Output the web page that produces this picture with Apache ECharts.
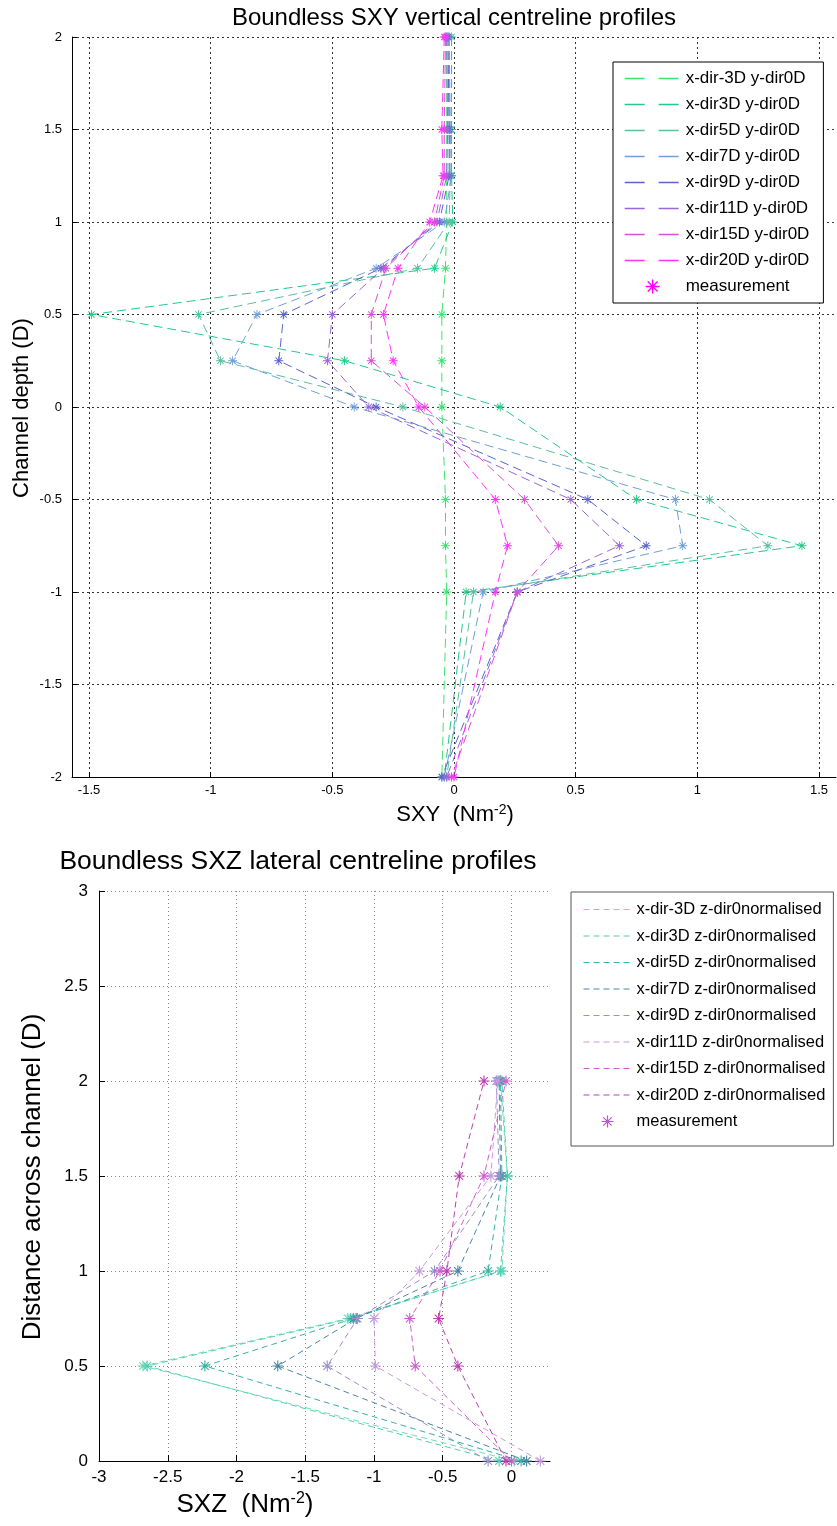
<!DOCTYPE html>
<html>
<head>
<meta charset="utf-8">
<script src="https://cdn.jsdelivr.net/npm/echarts@6/dist/echarts.min.js"></script>
<style>
html,body{margin:0;padding:0;background:#fff;}
#c{width:837px;height:1526px;}
</style>
</head>
<body>
<div id="c"></div>
<script>
// ---------- DATA: top chart (SXY vertical profiles) ----------
const topDepth = [2, 1.5, 1.25, 1, 0.75, 0.5, 0.25, 0, -0.5, -0.75, -1, -2];
const topNames = ['x-dir-3D y-dir0D','x-dir3D y-dir0D','x-dir5D y-dir0D','x-dir7D y-dir0D','x-dir9D y-dir0D','x-dir11D y-dir0D','x-dir15D y-dir0D','x-dir20D y-dir0D'];
const topM3  = [-0.03, -0.03, -0.03, -0.03, -0.035, -0.05, -0.05, -0.05, -0.035, -0.035, -0.03, -0.05];
const topP3  = [-0.01, -0.01, -0.01, -0.005, -0.08, -1.49, -0.45, 0.19, 0.75, 1.43, 0.05, -0.04];
const topP5  = [-0.02, -0.02, -0.015, -0.02, -0.15, -1.05, -0.96, -0.21, 1.05, 1.29, 0.08, -0.03];
const topP7  = [-0.02, -0.015, -0.01, -0.04, -0.32, -0.81, -0.91, -0.41, 0.91, 0.94, 0.12, -0.04];
const topP9  = [-0.025, -0.02, -0.02, -0.06, -0.30, -0.70, -0.72, -0.32, 0.55, 0.79, 0.26, -0.05];
const topP11 = [-0.03, -0.026, -0.03, -0.07, -0.29, -0.50, -0.52, -0.35, 0.48, 0.68, 0.26, -0.03];
const topP15 = [-0.035, -0.04, -0.04, -0.08, -0.28, -0.34, -0.34, -0.12, 0.29, 0.43, 0.26, -0.01];
const topP20 = [-0.04, -0.05, -0.045, -0.10, -0.23, -0.29, -0.25, -0.145, 0.17, 0.22, 0.17, 0.0];
const topMeasurement = [];
const topXTicks = [-1.5, -1, -0.5, 0, 0.5, 1, 1.5];

// ---------- DATA: bottom chart (SXZ lateral profiles) ----------
const botDist = [0, 0.5, 0.75, 1, 1.5, 2];
const botNames = ['x-dir-3D z-dir0normalised','x-dir3D z-dir0normalised','x-dir5D z-dir0normalised','x-dir7D z-dir0normalised','x-dir9D z-dir0normalised','x-dir11D z-dir0normalised','x-dir15D z-dir0normalised','x-dir20D z-dir0normalised'];
const botM3  = [0.02, -2.68, -1.19, -0.07, -0.03, -0.08];
const botP3  = [-0.09, -2.65, -1.17, -0.08, -0.03, -0.07];
const botP5  = [0.07, -2.23, -1.15, -0.17, -0.07, -0.08];
const botP7  = [0.11, -1.70, -1.13, -0.39, -0.08, -0.09];
const botP9  = [-0.17, -1.34, -1.12, -0.56, -0.09, -0.11];
const botP11 = [0.21, -0.99, -1.00, -0.67, -0.15, -0.10];
const botP15 = [0.0, -0.70, -0.74, -0.52, -0.20, -0.04];
const botP20 = [-0.04, -0.39, -0.53, -0.47, -0.38, -0.20];
const botMeasurement = [];
const botXTicks = [-3, -2.5, -2, -1.5, -1, -0.5, 0];

// ---------- STYLE ----------
const topColors = ['#3ee36f','#25c98a','#5cbf9f','#6f9fd6','#5a63d0','#9a66d8','#d94fd9','#ff33ff'];
const botColors = ['#6fdcb4','#4fcfb5','#38b2a2','#4a86a3','#9a90cc','#c69ae0','#cf5fcf','#b93fb0'];
const FONT = '"Liberation Sans", Arial, sans-serif';
const STAR = 'path://M-1,-10L1,-10L1,10L-1,10Z M-10,-1L10,-1L10,1L-10,1Z M-7.7,-6.3L-6.3,-7.7L7.7,6.3L6.3,7.7Z M-6.3,7.7L-7.7,6.3L6.3,-7.7L7.7,-6.3Z';

const topSeriesX = [topM3, topP3, topP5, topP7, topP9, topP11, topP15, topP20];
const botSeriesX = [botM3, botP3, botP5, botP7, botP9, botP11, botP15, botP20];

const series = [];
topSeriesX.forEach((xs, i) => {
  series.push({
    type: 'line', name: topNames[i], xAxisIndex: 0, yAxisIndex: 0,
    data: topDepth.map((d, k) => [xs[k], d]),
    symbol: STAR, symbolSize: 9, showAllSymbol: true, symbolKeepAspect: true,
    lineStyle: { color: topColors[i], width: 1, type: [9, 5] },
    itemStyle: { color: topColors[i] },
    emphasis: { disabled: true }, z: 2 + i
  });
});
series.push({
  type: 'scatter', name: 'measurement', xAxisIndex: 0, yAxisIndex: 0,
  data: topMeasurement, symbol: STAR, symbolSize: 12, symbolKeepAspect: true,
  itemStyle: { color: '#ff00ff' }
});
botSeriesX.forEach((xs, i) => {
  series.push({
    type: 'line', name: botNames[i], xAxisIndex: 1, yAxisIndex: 1,
    data: botDist.map((d, k) => [xs[k], d]),
    symbol: STAR, symbolSize: 11, showAllSymbol: true, symbolKeepAspect: true,
    lineStyle: { color: botColors[i], width: 1, type: [6, 4] },
    itemStyle: { color: botColors[i] },
    emphasis: { disabled: true }, z: 2 + i
  });
});
series.push({
  type: 'scatter', name: 'measurement', xAxisIndex: 1, yAxisIndex: 1,
  data: botMeasurement, symbol: STAR, symbolSize: 12, symbolKeepAspect: true,
  itemStyle: { color: '#c050e0' }
});

function valAxis(grid, opt) {
  return Object.assign({
    gridIndex: grid, type: 'value',
    axisLine: { show: true, onZero: false, lineStyle: { color: '#000', width: 1 } },
    axisTick: { show: true, inside: true, length: 5, lineStyle: { color: '#000' } },
    axisLabel: { color: '#000', fontFamily: FONT },
  }, opt);
}

const option = {
  animation: false,
  backgroundColor: '#fff',
  grid: [
    { left: 72, top: 37, width: 764, height: 740 },
    { left: 99, top: 891, width: 451, height: 570 }
  ],
  xAxis: [
    valAxis(0, {
      min: -1.57, max: 1.57,
      axisTick: { show: true, inside: true, length: 5, customValues: topXTicks, lineStyle: { color: '#000' } },
      axisLabel: { customValues: topXTicks, fontSize: 13, margin: 7, color: '#000', fontFamily: FONT },
      splitLine: { show: true, lineStyle: { color: '#333', width: 1, type: [2, 3] } }
    }),
    valAxis(1, {
      min: -3, max: 0.28,
      axisTick: { show: true, inside: true, length: 6, customValues: botXTicks, lineStyle: { color: '#000' } },
      axisLabel: { customValues: botXTicks, fontSize: 17, margin: 8, color: '#000', fontFamily: FONT },
      splitLine: { show: true, lineStyle: { color: '#8a8a8a', width: 1, type: [1, 3] } }
    })
  ],
  yAxis: [
    valAxis(0, {
      min: -2, max: 2, interval: 0.5,
      axisLabel: { fontSize: 13, margin: 10, color: '#000', fontFamily: FONT },
      splitLine: { show: true, lineStyle: { color: '#333', width: 1, type: [2, 3] } }
    }),
    valAxis(1, {
      min: 0, max: 3, interval: 0.5,
      axisTick: { show: true, inside: true, length: 6, lineStyle: { color: '#000' } },
      axisLabel: { fontSize: 17, margin: 11, color: '#000', fontFamily: FONT },
      splitLine: { show: true, lineStyle: { color: '#8a8a8a', width: 1, type: [1, 3] } }
    })
  ],
  legend: [
    {
      orient: 'vertical', left: 613, top: 62,
      padding: [8, 14, 8, 11], itemWidth: 56, itemHeight: 14, itemGap: 9,
      backgroundColor: '#fff', borderColor: '#000', borderWidth: 1, borderRadius: 0,
      textStyle: { fontSize: 17, color: '#000', fontFamily: FONT },
      itemStyle: { opacity: 0 },
      lineStyle: { type: [20, 14], width: 1.3 },
      selectedMode: false,
      data: topNames.concat([{ name: 'measurement', icon: STAR, symbolKeepAspect: true, itemStyle: { opacity: 1, color: '#ff00ff' } }])
    },
    {
      orient: 'vertical', left: 571, top: 892,
      padding: [9, 8, 16, 12], itemWidth: 48, itemHeight: 12, itemGap: 9.5,
      backgroundColor: '#fff', borderColor: '#555', borderWidth: 1, borderRadius: 0,
      textStyle: { fontSize: 16.5, lineHeight: 12, color: '#000', fontFamily: FONT },
      itemStyle: { opacity: 0 },
      lineStyle: { type: [6, 4], width: 1 },
      selectedMode: false,
      data: botNames.concat([{ name: 'measurement', icon: STAR, symbolKeepAspect: true, itemStyle: { opacity: 1, color: '#c050e0' } }])
    }
  ],
  graphic: [
    { type: 'text', x: 454, y: 18, style: { text: 'Boundless SXY vertical centreline profiles', font: '24px ' + FONT, fill: '#000', align: 'center', verticalAlign: 'middle' } },
    { type: 'text', x: 22, y: 408, rotation: Math.PI / 2, style: { text: 'Channel depth (D)', font: '22px ' + FONT, fill: '#000', align: 'center', verticalAlign: 'middle' } },
    { type: 'text', x: 455, y: 815, style: { text: '{a|SXY  (Nm}{s|-2}{a|)}', fill: '#000', align: 'center', verticalAlign: 'middle',
        rich: { a: { fontSize: 22, fontFamily: FONT, fill: '#000', lineHeight: 24 }, s: { fontSize: 14, fontFamily: FONT, fill: '#000', verticalAlign: 'top', lineHeight: 14 } } } },
    { type: 'text', x: 298, y: 862, style: { text: 'Boundless SXZ lateral centreline profiles', font: '26.5px ' + FONT, fill: '#000', align: 'center', verticalAlign: 'middle' } },
    { type: 'text', x: 33, y: 1177, rotation: Math.PI / 2, style: { text: 'Distance across channel (D)', font: '26px ' + FONT, fill: '#000', align: 'center', verticalAlign: 'middle' } },
    { type: 'text', x: 245, y: 1505, style: { text: '{a|SXZ  (Nm}{s|-2}{a|)}', fill: '#000', align: 'center', verticalAlign: 'middle',
        rich: { a: { fontSize: 26, fontFamily: FONT, fill: '#000', lineHeight: 28 }, s: { fontSize: 16, fontFamily: FONT, fill: '#000', verticalAlign: 'top', lineHeight: 16 } } } }
  ],
  series: series
};

const chart = echarts.init(document.getElementById('c'), null, { renderer: 'canvas' });
chart.setOption(option);
</script>
</body>
</html>
